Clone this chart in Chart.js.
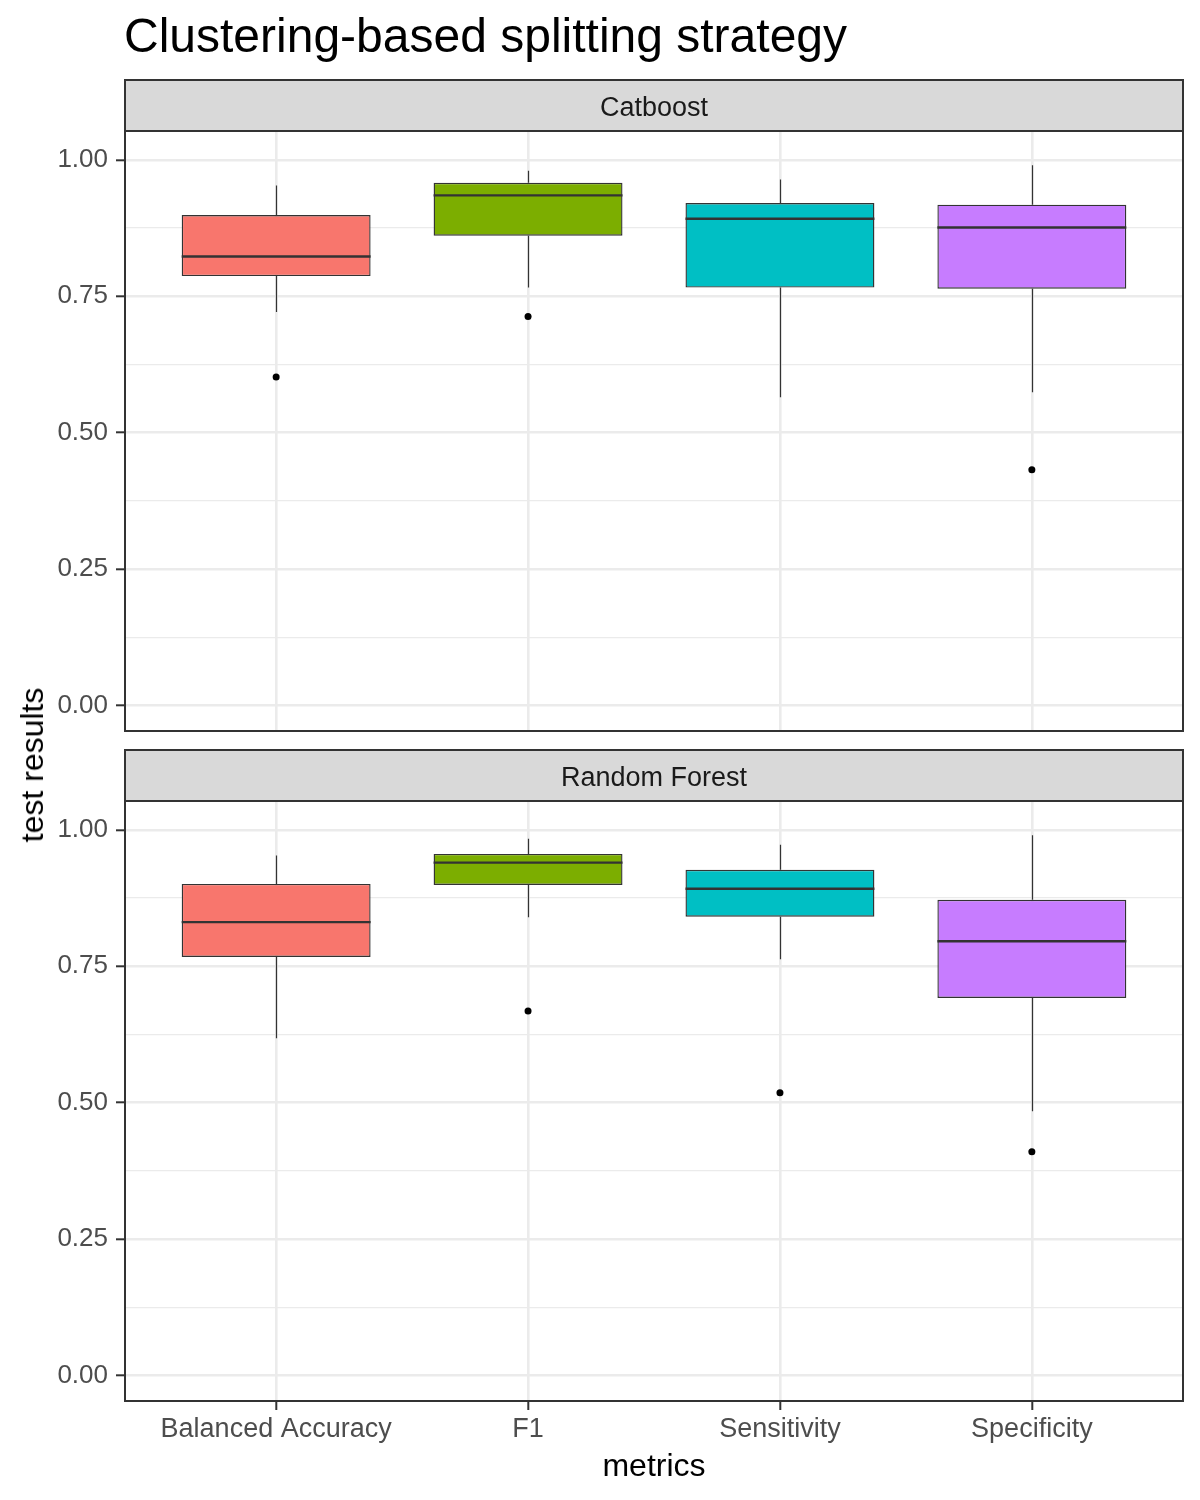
<!DOCTYPE html>
<html>
<head>
<meta charset="utf-8">
<script src="https://cdn.jsdelivr.net/npm/chart.js@4.4.1/dist/chart.umd.min.js"></script>
<style>
  body { margin: 0; background: #fff; }
  #wrap { position: relative; width: 1200px; height: 1500px; background: #fff; font-family: "Liberation Sans", Arial, sans-serif; }
  canvas { position: absolute; left: 0; }
  #title { position: absolute; left: 124px; top: 12px; font-size: 48px; line-height: 1; color: #000; white-space: nowrap; }
  #ytitle { position: absolute; left: 32px; top: 765px; font-size: 32px; line-height: 1; color: #000; white-space: nowrap;
            transform: translate(-50%, -50%) rotate(-90deg); }
</style>
</head>
<body>
<div id="wrap">
  <canvas id="cat" width="1200" height="760" style="top:0"></canvas>
  <canvas id="rf" width="1200" height="752" style="top:748px"></canvas>
  <div id="title">Clustering-based splitting strategy</div>
  <div id="ytitle">test results</div>
</div>
<script>
// categories and colours
var metrics = ['Balanced Accuracy', 'F1', 'Sensitivity', 'Specificity'];
var fills = ['#F8766D', '#7CAE00', '#00BFC4', '#C77CFF'];

// y ticks (minor ticks have no label)
var yTickValues = [0, 0.125, 0.25, 0.375, 0.5, 0.625, 0.75, 0.875, 1];
var yTickLabels = ['0.00', '', '0.25', '', '0.50', '', '0.75', '', '1.00'];

// Catboost box statistics
var catLower  = [0.721, 0.766, 0.565, 0.574];
var catQ1     = [0.787, 0.861, 0.766, 0.764];
var catMedian = [0.823, 0.935, 0.892, 0.876];
var catQ3     = [0.899, 0.958, 0.921, 0.918];
var catUpper  = [0.953, 0.980, 0.964, 0.990];
var catOutliers = [0.602, 0.713, null, 0.432];

// Random Forest box statistics
var rfLower  = [0.618, 0.840, 0.763, 0.484];
var rfQ1     = [0.767, 0.899, 0.841, 0.692];
var rfMedian = [0.831, 0.940, 0.892, 0.796];
var rfQ3     = [0.901, 0.956, 0.927, 0.872];
var rfUpper  = [0.953, 0.984, 0.973, 0.990];
var rfOutliers = [null, 0.668, 0.518, 0.410];

Chart.defaults.font.family = '"Liberation Sans", Arial, sans-serif';
Chart.defaults.animation = false;

function panelPlugin(name, lower, q1, median, q3, upper) {
    return {
        id: 'panel',
        beforeDatasetsDraw: function (chart) {
            // whiskers
            var ctx = chart.ctx, x = chart.scales.x, y = chart.scales.y;
            ctx.save();
            ctx.strokeStyle = '#333333';
            ctx.lineWidth = 1.2;
            for (var i = 0; i < lower.length; i++) {
                var px = Math.round(x.getPixelForValue(i + 1)) + 0.5;
                ctx.beginPath();
                ctx.moveTo(px, y.getPixelForValue(upper[i]));
                ctx.lineTo(px, y.getPixelForValue(q3[i]));
                ctx.moveTo(px, y.getPixelForValue(q1[i]));
                ctx.lineTo(px, y.getPixelForValue(lower[i]));
                ctx.stroke();
            }
            ctx.restore();
        },
        afterDatasetsDraw: function (chart) {
            // medians
            var ctx = chart.ctx, y = chart.scales.y;
            var bars = chart.getDatasetMeta(0).data;
            ctx.save();
            ctx.strokeStyle = '#333333';
            ctx.lineWidth = 2.4;
            for (var i = 0; i < median.length; i++) {
                var b = bars[i];
                var py = y.getPixelForValue(median[i]);
                ctx.beginPath();
                ctx.moveTo(b.x - b.width / 2, py);
                ctx.lineTo(b.x + b.width / 2, py);
                ctx.stroke();
            }
            ctx.restore();
        },
        afterDraw: function (chart) {
            var ctx = chart.ctx, a = chart.chartArea;
            ctx.save();
            // strip
            ctx.fillStyle = '#D9D9D9';
            ctx.fillRect(a.left, a.top - 51, a.right - a.left, 51);
            ctx.strokeStyle = '#333333';
            ctx.lineWidth = 2;
            ctx.strokeRect(a.left, a.top - 51, a.right - a.left, 51);
            ctx.fillStyle = '#1A1A1A';
            ctx.font = '27px "Liberation Sans", Arial, sans-serif';
            ctx.textAlign = 'center';
            ctx.textBaseline = 'alphabetic';
            ctx.fillText(name, (a.left + a.right) / 2, a.top - 15.3);
            // panel border
            ctx.strokeRect(a.left, a.top, a.right - a.left, a.bottom - a.top);
            ctx.restore();
        }
    };
}

function makePanel(id, name, lower, q1, median, q3, upper, outliers, bottom) {
    var boxes = metrics.map(function (m, i) { return { x: i + 1, y: [q1[i], q3[i]] }; });
    var points = [];
    outliers.forEach(function (v, i) { if (v !== null) points.push({ x: i + 1, y: v }); });

    return new Chart(document.getElementById(id), {
        type: 'bar',
        data: {
            datasets: [{
                type: 'bar',
                data: boxes,
                backgroundColor: fills,
                borderColor: '#333333',
                borderWidth: 1.4,
                borderSkipped: false,
                barPercentage: 0.75,
                categoryPercentage: 1
            }, {
                type: 'scatter',
                data: points,
                pointRadius: 3.5,
                pointBackgroundColor: '#000000',
                pointBorderWidth: 0
            }]
        },
        options: {
            responsive: false,
            events: [],
            layout: { padding: bottom ? { top: 53, right: 17, bottom: 0, left: 0 } : { top: 131, right: 17, bottom: 29, left: 0 } },
            plugins: { legend: { display: false }, tooltip: { enabled: false } },
            scales: {
                x: {
                    type: 'linear',
                    min: 0.4,
                    max: 4.6,
                    offset: false,
                    border: { display: false },
                    grid: {
                        offset: false,
                        color: '#EBEBEB',
                        lineWidth: 2.6,
                        drawTicks: bottom,
                        tickLength: 9,
                        tickColor: '#333333',
                        tickWidth: 2
                    },
                    ticks: {
                        display: bottom,
                        autoSkip: false,
                        maxRotation: 0,
                        padding: 3,
                        color: '#4D4D4D',
                        font: { size: 27 },
                        callback: function (v) { return metrics[v - 1]; }
                    },
                    title: {
                        display: bottom,
                        text: 'metrics',
                        color: '#000000',
                        font: { size: 32 },
                        padding: { top: 0, bottom: 14 }
                    },
                    afterBuildTicks: function (s) {
                        s.ticks = metrics.map(function (m, i) { return { value: i + 1 }; });
                    },
                    afterFit: function (s) { s.height = bottom ? 99 : 0; }
                },
                y: {
                    min: -0.047,
                    max: 1.053,
                    border: { display: false },
                    grid: {
                        color: '#EBEBEB',
                        lineWidth: function (c) { return yTickLabels[c.index] ? 2.6 : 1.3; },
                        tickLength: 9,
                        tickWidth: 2,
                        tickColor: function (c) { return yTickLabels[c.index] ? '#333333' : 'rgba(0,0,0,0)'; }
                    },
                    ticks: {
                        padding: 8,
                        color: '#4D4D4D',
                        font: { size: 26 },
                        callback: function (v, i) { return yTickLabels[i]; }
                    },
                    afterBuildTicks: function (s) {
                        s.ticks = yTickValues.map(function (v) { return { value: v }; });
                    },
                    afterFit: function (s) { s.width = 125; }
                }
            }
        },
        plugins: [panelPlugin(name, lower, q1, median, q3, upper)]
    });
}

makePanel('cat', 'Catboost', catLower, catQ1, catMedian, catQ3, catUpper, catOutliers, false);
makePanel('rf', 'Random Forest', rfLower, rfQ1, rfMedian, rfQ3, rfUpper, rfOutliers, true);
</script>
</body>
</html>
